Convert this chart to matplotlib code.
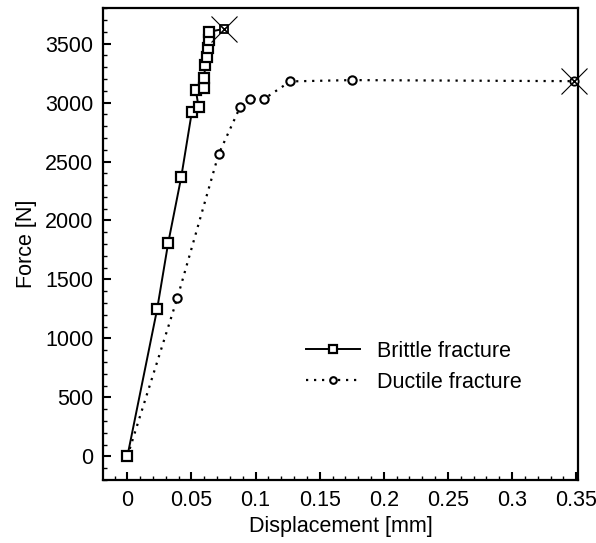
import matplotlib
matplotlib.use("Agg")
import matplotlib.pyplot as plt
from matplotlib.ticker import MultipleLocator, FuncFormatter

plt.rcParams['font.family'] = ['Liberation Sans', 'DejaVu Sans']

# Brittle fracture data
brittle_x = [0.0, 0.0232, 0.0318, 0.0420, 0.0503, 0.0555, 0.0534, 0.0599, 0.0599,
             0.0607, 0.0620, 0.0628, 0.0633, 0.0638, 0.0750]
brittle_y = [0, 1247, 1807, 2367, 2921, 2964, 3105, 3125, 3205,
             3318, 3388, 3459, 3530, 3600, 3623]

# Ductile fracture data
ductile_x = [0.0, 0.0389, 0.0711, 0.0880, 0.0953, 0.1068, 0.1270, 0.1748, 0.3485]
ductile_y = [0, 1340, 2560, 2964, 3032, 3032, 3179, 3190, 3181]

xticks = [0, 0.05, 0.1, 0.15, 0.2, 0.25, 0.3, 0.35]
yticks = [0, 500, 1000, 1500, 2000, 2500, 3000, 3500]

fig = plt.figure(figsize=(5.96, 5.43), dpi=100)
ax = fig.add_axes([0.1728, 0.116, 0.7972, 0.869])

fs = 15.5
dot = (0, (1, 2.6))
ax.plot(ductile_x[:-1], ductile_y[:-1], linestyle=dot, color='black', lw=1.6,
        marker='o', markersize=6, markerfacecolor='white', markeredgecolor='black',
        markeredgewidth=1.5, label='Ductile fracture', zorder=3)
ax.plot(ductile_x[-2:], ductile_y[-2:], linestyle=dot, color='black', lw=1.6, zorder=2)
ax.plot(brittle_x[:-1], brittle_y[:-1], '-', color='black', lw=1.4,
        marker='s', markersize=6.5, markerfacecolor='white', markeredgecolor='black',
        markeredgewidth=1.6, label='Brittle fracture', zorder=4)
ax.plot(brittle_x[-2:], brittle_y[-2:], '-', color='black', lw=1.4, zorder=2)

# end markers (fracture points)
ax.plot(brittle_x[-1], brittle_y[-1], marker='s', markersize=6, mfc='white', mec='black',
        mew=1.3, ls='none', zorder=5, clip_on=False)
ax.plot(brittle_x[-1], brittle_y[-1], marker='x', markersize=4.5, mec='black', mew=1.0,
        ls='none', zorder=6, clip_on=False)
ax.plot(brittle_x[-1], brittle_y[-1], marker='x', markersize=19, mec='black', mew=0.8,
        ls='none', zorder=6, clip_on=False)
ax.plot(ductile_x[-1], ductile_y[-1], marker='o', markersize=6, mfc='white', mec='black',
        mew=1.3, ls='none', zorder=5, clip_on=False)
ax.plot(ductile_x[-1], ductile_y[-1], marker='x', markersize=4.5, mec='black', mew=1.0,
        ls='none', zorder=6, clip_on=False)
ax.plot(ductile_x[-1], ductile_y[-1], marker='x', markersize=19, mec='black', mew=0.8,
        ls='none', zorder=6, clip_on=False)

ax.set_xlim(-0.019, 0.3515)
ax.set_ylim(-200, 3800)
ax.set_xticks(xticks)
ax.set_yticks(yticks)
ax.xaxis.set_major_formatter(FuncFormatter(lambda v, p: ('%g' % v)))
ax.xaxis.set_minor_locator(MultipleLocator(0.01))
ax.yaxis.set_minor_locator(MultipleLocator(100))
ax.tick_params(which='major', direction='in', length=6, width=1.5, labelsize=fs, pad=7,
               top=False, right=False)
ax.tick_params(which='minor', direction='in', length=3, width=1.0, top=False, right=False)
for s in ax.spines.values():
    s.set_linewidth(1.6)

ax.set_xlabel('Displacement [mm]', fontsize=fs, labelpad=4)
ax.set_ylabel('Force [N]', fontsize=fs, labelpad=6)

h, l = ax.get_legend_handles_labels()
leg = ax.legend(h[::-1], l[::-1], loc='center', bbox_to_anchor=(0.655, 0.24), frameon=False,
                fontsize=fs, handlelength=2.5, numpoints=1, markerscale=0.8,
                handletextpad=0.8, labelspacing=0.45)

fig.savefig('out.png', dpi=100)
